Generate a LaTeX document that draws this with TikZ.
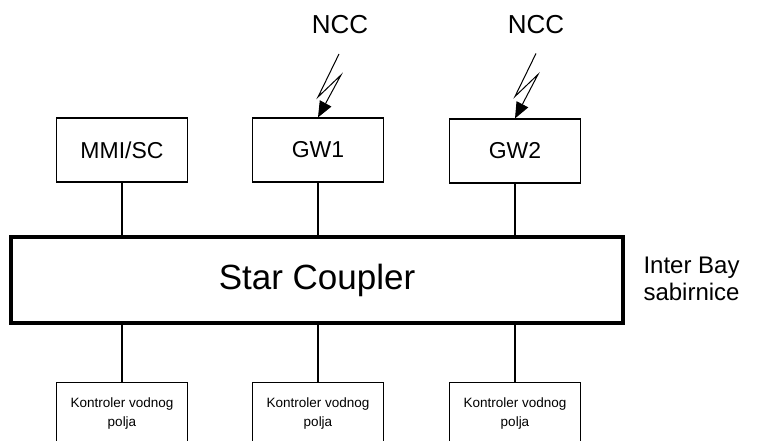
\documentclass[tikz,border=0pt]{standalone}
\usepackage{fontspec}
\setmainfont{Liberation Sans}
\usepackage{tikz}
\usetikzlibrary{arrows.meta, positioning, calc}

\begin{document}
\begin{tikzpicture}[
  x=1pt, y=-1pt,
  unitbox/.style={draw, line width=1.1pt, minimum width=131pt, minimum height=64pt, inner sep=0pt, font=\fontsize{23}{27}\selectfont},
  bayctl/.style={draw, line width=1.1pt, minimum width=131pt, minimum height=62pt, inner sep=0pt, align=center, font=\fontsize{13.5}{19}\selectfont},
  coupler/.style={draw, line width=3.5pt, minimum width=612pt, minimum height=86pt, inner sep=0pt, font=\fontsize{35}{40}\selectfont},
  busline/.style={line width=1.1pt},
  radio/.style={line width=1pt, -{Triangle[length=16pt, width=13pt]}},
  lbl/.style={font=\fontsize{26}{30}\selectfont}
]
  \useasboundingbox (0,0) rectangle (761,441);
  \clip (0,0) rectangle (761,441);

  \node[unitbox] (mmi) at (122,150) {MMI/SC};
  \node[unitbox] (gw1) at (318,150) {GW1};
  \node[unitbox] (gw2) at (515,151) {GW2};

  \node[coupler] (sc) at (317,280) {Star Coupler};
  \node[align=left, anchor=west, font=\fontsize{24}{27}\selectfont] (ib) at (640,279) {Inter Bay\\sabirnice};

  \node[bayctl, anchor=north] (kv1) at (122,382) {Kontroler vodnog\\polja};
  \node[bayctl, anchor=north] (kv2) at (318,382) {Kontroler vodnog\\polja};
  \node[bayctl, anchor=north] (kv3) at (515,382) {Kontroler vodnog\\polja};

  \node[lbl] (ncc1) at (340,25) {NCC};
  \node[lbl] (ncc2) at (536,25) {NCC};

  % munje prema gatewayima
  \coordinate (z1) at (339,54);
  \coordinate (z2) at ($(gw2.north)+(21,-65)$);
  \draw[radio] (z1) -- ++(-21,43) -- ++(23,-22) -- (gw1.north);
  \draw[radio] (z2) -- ++(-21,43) -- ++(23,-22) -- (gw2.north);

  \foreach \n in {mmi, gw1, gw2}
    \draw[busline] (\n.south) -- (\n.south |- sc.north);
  \foreach \n in {kv1, kv2, kv3}
    \draw[busline] (\n.north |- sc.south) -- (\n.north);
\end{tikzpicture}
\end{document}
